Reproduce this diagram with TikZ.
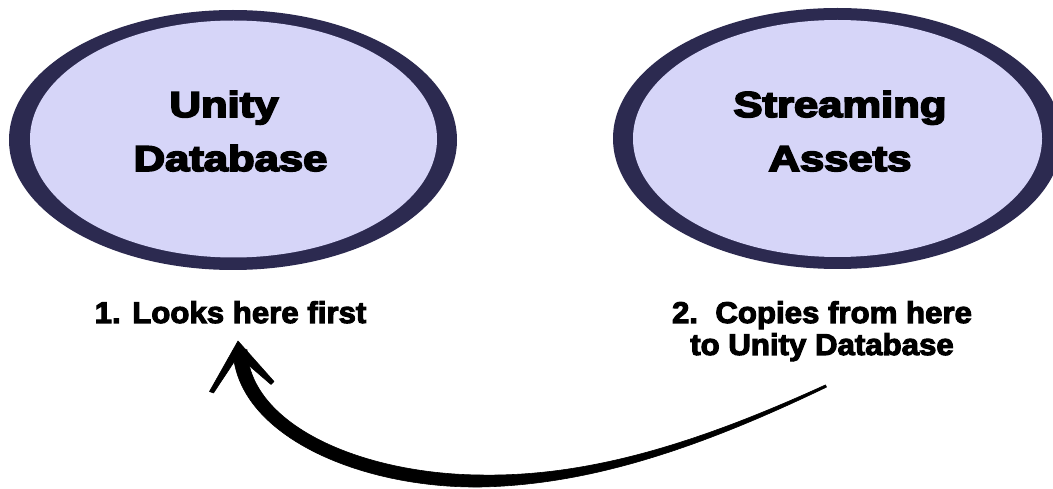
\documentclass[tikz,border=0pt]{standalone}
\usepackage{fontspec}
\setmainfont{Liberation Sans}
\newfontfamily\heavyfont[FakeBold=4.5]{Liberation Sans Bold}
\newfontfamily\midfont[FakeBold=3.5]{Liberation Sans Bold}
\usetikzlibrary{shapes.geometric}
\definecolor{ring}{RGB}{44,42,80}
\definecolor{lav}{RGB}{214,213,248}
\tikzset{
  outerell/.style={ellipse, fill=ring, draw=none, inner sep=0pt},
  innerell/.style={ellipse, fill=lav, draw=none, inner sep=0pt},
  bigtxt/.style={anchor=base, inner sep=0pt, font=\fontsize{36}{43}\selectfont\heavyfont},
  lbl/.style={anchor=base, inner sep=0pt, font=\fontsize{30}{36}\selectfont\midfont},
  brush/.style={fill=black, draw=black, line width=0.6pt, line join=round},
}
\newcommand{\wide}[2]{\scalebox{#1}[1]{#2}}
\begin{document}
\begin{tikzpicture}[x=1pt,y=-1pt]
\useasboundingbox (0,0) rectangle (1053,489);
\clip (0,0) rectangle (1053,489);
\fill[white] (0,0) rectangle (1053,489);

% Unity Database ellipse
\node[outerell, minimum width=448pt, minimum height=260pt] (udbo) at (233,140) {};
\node[innerell, minimum width=407pt, minimum height=237pt] (udb) at (233.5,139) {};
\node[bigtxt] (udb1) at (224,117) {\wide{1.21}{Unity}};
\node[bigtxt] (udb2) at (230.5,171) {\wide{1.21}{Database}};

% Streaming Assets ellipse
\node[outerell, minimum width=449pt, minimum height=261pt] (sao) at (837.5,138.5) {};
\node[innerell, minimum width=409pt, minimum height=237pt] (sa) at (837.5,138.5) {};
\node[bigtxt] (sa1) at (840,117) {\wide{1.21}{Streaming}};
\node[bigtxt] (sa2) at (840,171) {\wide{1.21}{Assets}};

% labels
\node[lbl] (l1) at (230.5,323) {\wide{1.04}{1. Looks here first}};
\node[lbl] (l2a) at (822,323) {\wide{1.04}{2.\ \ Copies from here}};
\node[lbl] (l2b) at (822,355) {\wide{1.04}{to Unity Database}};

% curved tapered arrow from label 2 to label 1
\coordinate (as) at (826,386);
\coordinate (ae) at (240,350);
\coordinate (ab) at (480,481);
\fill[brush]
  (826.5,387.1) .. controls (700.8,447.5) and (590.6,485.0) .. (480,487)
  .. controls (358.3,488.2) and (236.2,434.6) .. (233.0,350.3)
  -- (247.0,349.7)
  .. controls (249.8,425.4) and (361.7,473.8) .. (480,475)
  .. controls (589.4,477.0) and (699.2,442.5) .. (825.5,384.9) -- cycle;
% arrow head
\fill[brush]
  (238,341) -- (209.5,391.5) -- (213.5,393) -- (238,356)
  -- (271,384.5) -- (274,381.5) -- cycle;
\end{tikzpicture}
\end{document}
